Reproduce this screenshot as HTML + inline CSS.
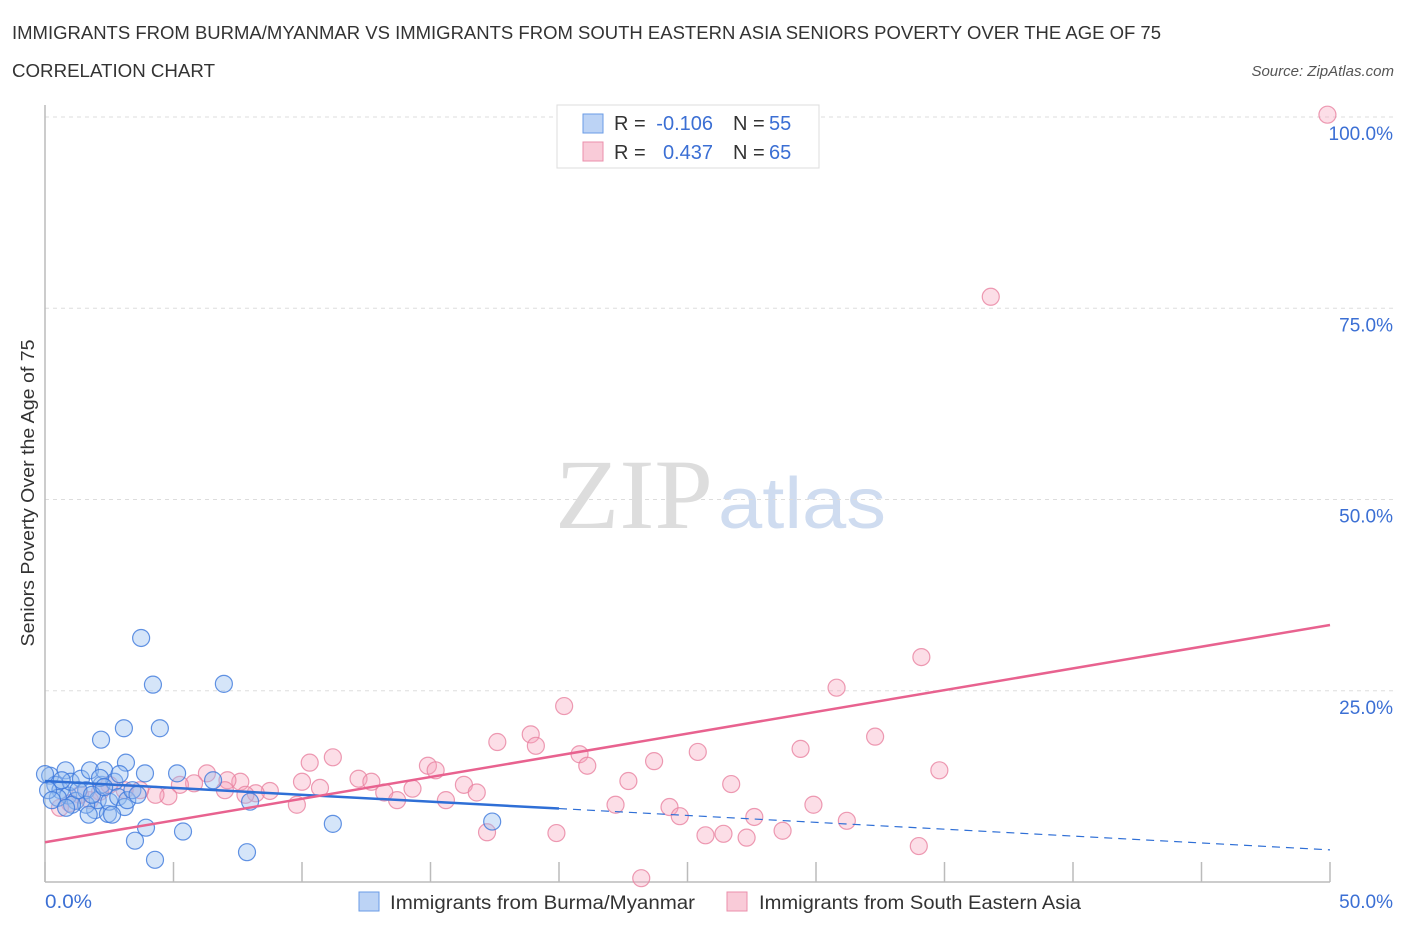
<!DOCTYPE html>
<html><head><meta charset="utf-8"><style>
body{margin:0;background:#fff;font-family:"Liberation Sans",sans-serif;}
</style></head><body>
<svg width="1406" height="930" xmlns="http://www.w3.org/2000/svg" font-family="Liberation Sans, sans-serif">
<text x="12" y="39" font-size="18" fill="#333" textLength="1149" lengthAdjust="spacingAndGlyphs">IMMIGRANTS FROM BURMA/MYANMAR VS IMMIGRANTS FROM SOUTH EASTERN ASIA SENIORS POVERTY OVER THE AGE OF 75</text>
<text x="12" y="77" font-size="18" fill="#333" textLength="203" lengthAdjust="spacingAndGlyphs">CORRELATION CHART</text>
<text x="1394" y="76" font-size="15" fill="#555" font-style="italic" text-anchor="end">Source: ZipAtlas.com</text>
<text x="555" y="528" font-size="100" fill="#ddd" font-family="Liberation Serif, serif" textLength="158" lengthAdjust="spacingAndGlyphs">ZIP</text>
<text x="718" y="528" font-size="72" fill="#cfdcf0" textLength="168" lengthAdjust="spacingAndGlyphs">atlas</text>
<g id="grid"></g>
<line x1="45" y1="105" x2="45" y2="882" stroke="#bbb" stroke-width="1.5"/>
<line x1="45" y1="882" x2="1330" y2="882" stroke="#bbb" stroke-width="1.5"/>
<g id="ticks"></g>
<text transform="translate(34,493) rotate(-90)" font-size="18" fill="#333" text-anchor="middle" textLength="307" lengthAdjust="spacingAndGlyphs">Seniors Poverty Over the Age of 75</text>
<text x="45" y="908" font-size="19" fill="#3b6fd4" textLength="47" lengthAdjust="spacingAndGlyphs">0.0%</text>
<text x="1393" y="908" font-size="19" fill="#3b6fd4" text-anchor="end">50.0%</text>
<g id="pts"></g>
<g id="lines"></g>
<g>
<rect x="557" y="105" width="262" height="63" fill="#fff" stroke="#ddd"/>
<rect x="583" y="114" width="20" height="19" fill="#bcd3f5" stroke="#6a9be6"/>
<rect x="583" y="142" width="20" height="19" fill="#f9cbd8" stroke="#eb8fab"/>
<text x="614" y="130" font-size="20" fill="#333">R =</text>
<text x="713" y="130" font-size="20" fill="#3b6fd4" text-anchor="end">-0.106</text>
<text x="733" y="130" font-size="20" fill="#333">N =</text>
<text x="769" y="130" font-size="20" fill="#3b6fd4">55</text>
<text x="614" y="159" font-size="20" fill="#333">R =</text>
<text x="713" y="159" font-size="20" fill="#3b6fd4" text-anchor="end">0.437</text>
<text x="733" y="159" font-size="20" fill="#333">N =</text>
<text x="769" y="159" font-size="20" fill="#3b6fd4">65</text>
</g>
<g>
<rect x="359" y="892" width="20" height="19" fill="#bcd3f5" stroke="#6a9be6"/>
<text x="390" y="909" font-size="19" fill="#333" textLength="305" lengthAdjust="spacingAndGlyphs">Immigrants from Burma/Myanmar</text>
<rect x="727" y="892" width="20" height="19" fill="#f9cbd8" stroke="#eb8fab"/>
<text x="759" y="909" font-size="19" fill="#333" textLength="322" lengthAdjust="spacingAndGlyphs">Immigrants from South Eastern Asia</text>
</g>
</svg>
<script>
const yTicks=[25,50,75,100];
const yTickLabels=["25.0%","50.0%","75.0%","100.0%"];
const xTicks=[0,5,10,15,20,25,30,35,40,45,50];
const blueX=[3.74,4.2,6.96,3.07,4.47,2.18,3.15,3.89,5.14,6.54,7.98,11.2,17.4,3.93,5.37,3.5,4.28,7.86,0.2,0.4,0.6,0.8,0.9,1.0,1.2,1.4,1.6,1.75,1.95,2.05,2.2,2.3,2.45,2.5,2.7,2.85,2.9,3.1,3.2,3.4,1.6,1.05,0.5,0.65,1.3,1.83,0.12,2.14,1.7,2.61,0.0,0.27,0.82,2.3,3.6];
const blueY=[31.9,25.8,25.9,20.1,20.1,18.6,15.6,14.2,14.2,13.3,10.5,7.6,7.9,7.1,6.6,5.4,2.9,3.9,13.9,12.7,12.0,14.6,11.3,13.1,10.6,13.5,12.0,14.6,9.4,10.7,12.7,14.6,8.9,10.5,13.1,11.1,14.1,9.8,10.7,12.0,10.1,10.1,11.0,13.3,12.0,11.4,12.0,13.6,8.8,8.8,14.1,10.7,9.7,12.4,11.4];
const pinkX=[49.9,36.8,34.1,30.8,20.2,18.9,19.1,17.6,32.3,29.4,25.4,20.8,23.7,21.1,14.9,15.2,10.3,11.2,12.2,12.7,10.0,34.8,22.7,26.7,16.3,16.8,14.3,13.2,10.7,13.7,15.6,22.2,24.3,29.9,24.7,27.6,31.2,28.7,26.4,25.7,27.3,17.2,19.9,34.0,23.2,9.8,8.75,8.2,7.6,7.1,6.3,5.8,5.25,4.8,4.3,3.7,3.1,2.5,2.14,1.75,1.36,0.97,0.58,7.0,7.8];
const pinkY=[100.3,76.5,29.4,25.4,23.0,19.3,17.8,18.3,19.0,17.4,17.0,16.7,15.8,15.2,15.2,14.6,15.6,16.3,13.5,13.1,13.1,14.6,13.2,12.8,12.7,11.7,12.2,11.7,12.3,10.7,10.7,10.1,9.8,10.1,8.6,8.5,8.0,6.7,6.3,6.1,5.8,6.5,6.4,4.7,0.5,10.1,11.9,11.6,13.1,13.3,14.2,12.9,12.7,11.2,11.4,12.0,12.0,12.7,11.8,10.7,11.4,10.3,9.7,12.0,11.4];
const blueLine=[13.2,4.2]; const blueSolidEnd=20;
const pinkLine=[5.2,33.6];
const sx=v=>45+v/50*1285, sy=v=>882-v*7.65;
const NS="http://www.w3.org/2000/svg";
function mk(t,a,p){const e=document.createElementNS(NS,t);for(const k in a)e.setAttribute(k,a[k]);p.appendChild(e);return e;}
const grid=document.getElementById('grid');
yTicks.forEach((v,i)=>{
  const l=mk('line',{x1:45,x2:1393,y1:sy(v),y2:sy(v),stroke:'#ddd','stroke-dasharray':'4,4'},grid);
  
  
  const t=mk('text',{x:1393,y:sy(v)+23,'font-size':19,fill:'#3b6fd4','text-anchor':'end'},grid);
  t.textContent=yTickLabels[i];
  
  
});
const tk=document.getElementById('ticks');
xTicks.forEach(v=>{
  const l=mk('line',{x1:sx(v),x2:sx(v),y1:862,y2:882,stroke:'#bbb','stroke-width':1.5},tk);
  
  
});
const pts=document.getElementById('pts');
pinkX.forEach((x,i)=>{
  const c=mk('circle',{cx:sx(x),cy:sy(pinkY[i]),r:8.5,fill:'rgba(245,160,185,0.35)',stroke:'rgba(232,130,160,0.8)','stroke-width':1.2},pts);
  
  
});
blueX.forEach((x,i)=>{
  const c=mk('circle',{cx:sx(x),cy:sy(blueY[i]),r:8.5,fill:'rgba(150,190,240,0.4)',stroke:'rgba(60,120,220,0.8)','stroke-width':1.2},pts);
  
  
});
const ln=document.getElementById('lines');
const bAt=x=>blueLine[0]+(blueLine[1]-blueLine[0])*x/50;
let a=mk('line',{x1:sx(0),y1:sy(bAt(0)),x2:sx(blueSolidEnd),y2:sy(bAt(blueSolidEnd)),stroke:'#2f6fd6','stroke-width':2.5},ln);


a=mk('line',{x1:sx(blueSolidEnd),y1:sy(bAt(blueSolidEnd)),x2:sx(50),y2:sy(bAt(50)),stroke:'#2f6fd6','stroke-width':1.2,'stroke-dasharray':'8,6'},ln);


a=mk('line',{x1:sx(0),y1:sy(pinkLine[0]),x2:sx(50),y2:sy(pinkLine[1]),stroke:'#e8628f','stroke-width':2.5},ln);


</script>
</body></html>
